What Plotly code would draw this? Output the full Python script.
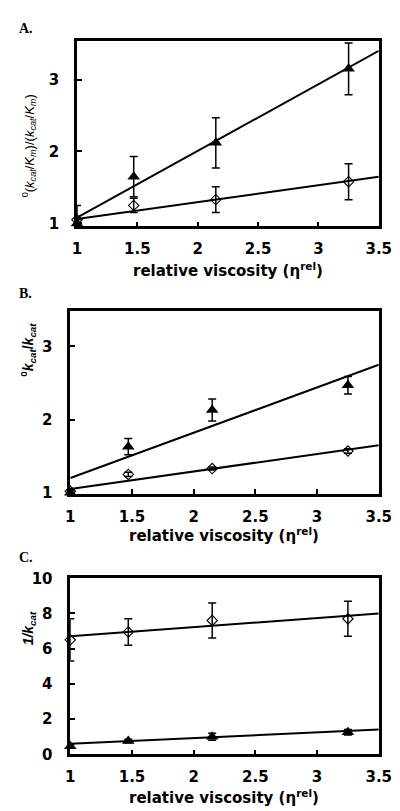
import plotly.graph_objects as go

# ---- data ----
visc = [1.0, 1.47, 2.15, 3.25]

# Panel A: 0(kcat/Km)/(kcat/Km)
a_tri = [1.0, 1.65, 2.12, 3.15]
a_tri_err = [0.05, 0.28, 0.35, 0.36]
a_dia = [1.05, 1.25, 1.33, 1.58]
a_dia_err = [0.2, 0.1, 0.18, 0.25]
a_fit_x = [1.0, 3.5]
a_fit_tri = [1.08, 3.4]
a_fit_dia = [1.06, 1.65]

# Panel B: 0kcat/kcat
b_tri = [1.0, 1.63, 2.13, 2.47]
b_tri_err = [0.03, 0.11, 0.15, 0.12]
b_dia = [1.02, 1.25, 1.33, 1.57]
b_dia_err = [0.02, 0.03, 0.02, 0.03]
b_fit_x = [1.0, 3.5]
b_fit_tri = [1.2, 2.75]
b_fit_dia = [1.05, 1.65]

# Panel C: 1/kcat
c_dia = [6.5, 6.95, 7.6, 7.7]
c_dia_err = [1.2, 0.75, 1.0, 1.0]
c_tri = [0.45, 0.75, 1.0, 1.25]
c_tri_err = [0.1, 0.1, 0.2, 0.15]
c_fit_x = [1.0, 3.5]
c_fit_dia = [6.7, 8.0]
c_fit_tri = [0.6, 1.4]

x_ticks = [1, 1.5, 2, 2.5, 3, 3.5]
x_ticklabels = ["1", "1.5", "2", "2.5", "3", "3.5"]

x_title = "relative viscosity (η<sup>rel</sup>)"
y_titles = [
    "<sup>0</sup>(<i>k<sub>cat</sub></i>/<i>K<sub>m</sub></i>)/(<i>k<sub>cat</sub></i>/<i>K<sub>m</sub></i>)",
    "<b><sup>0</sup><i>k<sub>cat</sub></i>/<i>k<sub>cat</sub></i></b>",
    "<b><i>1/k<sub>cat</sub></i></b>",
]
panel_labels = ["A.", "B.", "C."]

W, H = 400, 811
fig = go.Figure()

def add_panel(idx, tri, tri_err, dia, dia_err, fx, ftri, fdia):
    xa = "x" if idx == 1 else f"x{idx}"
    ya = "y" if idx == 1 else f"y{idx}"
    for fy in (ftri, fdia):
        fig.add_trace(go.Scatter(x=fx, y=fy, mode="lines", xaxis=xa, yaxis=ya,
                                 line=dict(color="black", width=2), showlegend=False))
    fig.add_trace(go.Scatter(x=visc, y=tri, mode="markers", xaxis=xa, yaxis=ya,
                             marker=dict(symbol="triangle-up", size=11, color="black"),
                             error_y=dict(type="data", array=tri_err, color="black",
                                          thickness=1.5, width=4),
                             showlegend=False, cliponaxis=False))
    fig.add_trace(go.Scatter(x=visc, y=dia, mode="markers", xaxis=xa, yaxis=ya,
                             marker=dict(symbol="diamond-open", size=8, color="black",
                                         line=dict(width=1.1, color="black")),
                             error_y=dict(type="data", array=dia_err, color="black",
                                          thickness=1.5, width=4),
                             showlegend=False, cliponaxis=False))

add_panel(1, a_tri, a_tri_err, a_dia, a_dia_err, a_fit_x, a_fit_tri, a_fit_dia)
add_panel(2, b_tri, b_tri_err, b_dia, b_dia_err, b_fit_x, b_fit_tri, b_fit_dia)
add_panel(3, c_tri, c_tri_err, c_dia, c_dia_err, c_fit_x, c_fit_tri, c_fit_dia)

def px_dom_x(l, r):
    return [l / W, r / W]

def px_dom_y(t, b):
    return [1 - b / H, 1 - t / H]

SANS = "DejaVu Sans"
tickfont = dict(family=SANS, size=15, color="black")

common_x = dict(range=[1, 3.5], tickvals=x_ticks, ticktext=[f"<b>{t}</b>" for t in x_ticklabels],
                ticks="inside", ticklen=5, tickwidth=2, tickcolor="black",
                showline=True, linewidth=2.5, linecolor="black", mirror=True,
                showgrid=False, zeroline=False, tickfont=tickfont, ticklabelstandoff=7)
common_y = dict(ticks="inside", ticklen=5, tickwidth=2, tickcolor="black",
                showline=True, linewidth=2.5, linecolor="black", mirror=True,
                showgrid=False, zeroline=False, tickfont=tickfont,
                ticklabelstandoff=12)

fig.update_layout(
    width=W, height=H, margin=dict(l=0, r=0, t=0, b=0),
    plot_bgcolor="white", paper_bgcolor="white",
    xaxis=dict(domain=px_dom_x(67, 383), anchor="y", **common_x),
    yaxis=dict(domain=px_dom_y(25, 214), anchor="x", range=[0.96, 3.53],
               tickvals=[1, 2, 3], ticktext=["<b>1</b>", "<b>2</b>", "<b>3</b>"],
               **common_y),
    xaxis2=dict(domain=px_dom_x(60, 383), anchor="y2", **common_x),
    yaxis2=dict(domain=px_dom_y(301, 488), anchor="x2", range=[0.98, 3.48],
                tickvals=[1, 2, 3], ticktext=["<b>1</b>", "<b>2</b>", "<b>3</b>"],
                **common_y),
    xaxis3=dict(domain=px_dom_x(60, 383), anchor="y3", **common_x),
    yaxis3=dict(domain=px_dom_y(574, 754), anchor="x3", range=[0, 10],
                tickvals=[0, 2, 4, 6, 8, 10],
                ticktext=[f"<b>{v}</b>" for v in [0, 2, 4, 6, 8, 10]],
                **common_y),
)

# x-axis titles
for xc, yc in ((225, 259), (221, 530), (221, 798)):
    fig.add_annotation(text=f"<b>{x_title}</b>", x=xc / W, y=1 - yc / H, xref="paper", yref="paper",
                       xanchor="center", yanchor="middle", showarrow=False,
                       font=dict(family=SANS, size=15, color="black"))

# y-axis titles
y_title_fonts = [dict(family="Liberation Sans", size=13, color="black"),
                 dict(family="Liberation Sans", size=14, color="black"),
                 dict(family="Liberation Sans", size=14, color="black")]
for txt, fnt, (xc, yc) in zip(y_titles, y_title_fonts, ((17, 132), (16, 340), (17, 625))):
    fig.add_annotation(text=txt, x=xc / W, y=1 - yc / H, xref="paper", yref="paper",
                       xanchor="center", yanchor="middle", showarrow=False, textangle=-90,
                       font=fnt)

label_font = dict(family="Liberation Serif", size=14, color="black")
for txt, ypx in zip(panel_labels, (12, 283, 553)):
    fig.add_annotation(text=f"<b>{txt}</b>", x=4 / W, y=1 - ypx / H, xref="paper", yref="paper",
                       xanchor="left", yanchor="middle", showarrow=False, font=label_font)

fig.write_html("out.html")
